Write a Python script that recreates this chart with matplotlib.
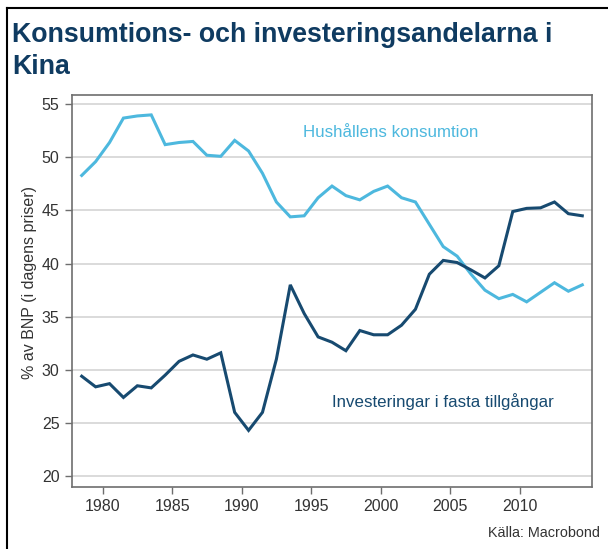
import matplotlib
matplotlib.use("Agg")
import matplotlib.pyplot as plt
from matplotlib.lines import Line2D
import numpy as np

plt.rcParams["font.family"] = ["Liberation Sans", "DejaVu Sans"]

YEARS = list(range(1978, 2015))
CONSUMPTION = [
    48.3, 49.6, 51.4, 53.7, 53.9, 54.0, 51.2, 51.4, 51.5, 50.2,
    50.1, 51.6, 50.6, 48.5, 45.8, 44.4, 44.5, 46.2, 47.3, 46.4,
    46.0, 46.8, 47.3, 46.2, 45.8, 43.7, 41.6, 40.7, 39.0, 37.5,
    36.7, 37.1, 36.4, 37.3, 38.2, 37.4, 38.0,
]
INVESTMENT = [
    29.4, 28.4, 28.7, 27.4, 28.5, 28.3, 29.5, 30.8, 31.4, 31.0,
    31.6, 26.0, 24.3, 26.0, 31.0, 38.0, 35.3, 33.1, 32.6, 31.8,
    33.7, 33.3, 33.3, 34.2, 35.7, 39.0, 40.3, 40.1, 39.4, 38.65,
    39.8, 44.9, 45.2, 45.25, 45.8, 44.7, 44.5,
]
X_TICKS = [1980, 1985, 1990, 1995, 2000, 2005, 2010]
Y_TICKS = [20, 25, 30, 35, 40, 45, 50, 55]

LIGHT_BLUE = "#4DB8DE"
NAVY = "#174A70"
TITLE_COLOR = "#0F3B61"
TEXT_GRAY = "#333333"
SPINE_GRAY = "#6E6E6E"

fig = plt.figure(figsize=(6.08, 5.49), dpi=100)
ax = fig.add_axes([0.1184, 0.1135, 0.8553, 0.714])

x = np.array(YEARS) + 0.5
ax.plot(x, CONSUMPTION, color=LIGHT_BLUE, linewidth=2.2, solid_joinstyle="miter")
ax.plot(x, INVESTMENT, color=NAVY, linewidth=2.2, solid_joinstyle="miter")

ax.set_xlim(1977.8, 2015.2)
ax.set_ylim(19.0, 55.9)
ax.set_xticks(X_TICKS)
ax.set_yticks(Y_TICKS)
ax.grid(axis="y", color="#D4D4D4", linewidth=1.2)
ax.set_axisbelow(True)
ax.tick_params(labelsize=11.5, colors=TEXT_GRAY, length=5, width=1, color=SPINE_GRAY, pad=4)
for spine in ax.spines.values():
    spine.set_color(SPINE_GRAY)
    spine.set_linewidth(1.2)

ax.set_ylabel("% av BNP (i dagens priser)", fontsize=11.5, color=TEXT_GRAY)
ax.yaxis.set_label_coords(-0.068, 0.52)

ax.text(2000.7, 52.3, "Hushållens konsumtion", color=LIGHT_BLUE, fontsize=12.2,
        ha="center", va="center")
ax.text(2004.5, 27.05, "Investeringar i fasta tillgångar", color=NAVY, fontsize=12.2,
        ha="center", va="center")

fig.text(0.02, 0.908, "Konsumtions- och investeringsandelarna i\nKina", color=TITLE_COLOR,
         fontsize=19.3, fontweight="bold", ha="left", va="center", linespacing=1.3)
fig.text(0.987, 0.029, "Källa: Macrobond", color=TEXT_GRAY, fontsize=10.4, ha="right", va="center")

# frame lines along the left and top edge of the screenshot
fig.add_artist(Line2D([0.0115, 0.0115], [0.0, 0.986], color="black", linewidth=1.5,
                      transform=fig.transFigure))
fig.add_artist(Line2D([0.0115, 1.0], [0.986, 0.986], color="black", linewidth=1.5,
                      transform=fig.transFigure))

fig.savefig("out.png", dpi=100)
